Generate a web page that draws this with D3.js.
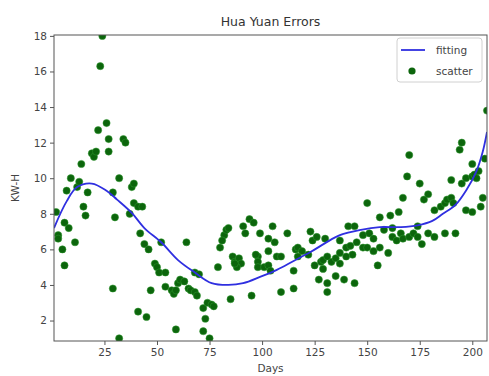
<!DOCTYPE html>
<html>
<head>
<meta charset="utf-8">
<script src="https://cdn.jsdelivr.net/npm/d3@7"></script>
<style>
  body { margin: 0; background: #fff; }
  svg { display: block; font-family: "DejaVu Sans", sans-serif; }
</style>
</head>
<body>
<svg id="chart" width="489" height="376"></svg>
<script>
// scatter readings (day, error)
const scatterDays = [2, 3, 3, 5, 6, 6, 7, 8, 9, 11, 12, 13, 14, 15, 16, 17, 19, 20, 21, 22,
  23, 24, 26, 27, 27, 29, 29, 30, 32, 32, 34, 35, 37, 38, 39, 39, 41, 43, 42, 41,
  44, 46, 45, 47, 49, 50, 51, 52, 54, 54, 57, 58, 59, 59, 60, 61, 63, 64, 65, 66,
  68, 68, 69, 70, 72, 72, 73, 74, 75, 76, 77, 79, 80, 82, 81, 83, 84, 85, 86, 87,
  89, 90, 88, 91, 92, 94, 96, 95, 98, 98, 98, 101, 103, 99, 103, 105, 103, 106, 107, 109,
  109, 112, 115, 115, 116, 117, 119, 122, 117, 123, 124, 126, 125, 127, 128, 129, 131, 131, 130, 133,
  135, 137, 135, 139, 137, 140, 141, 142, 144, 144, 145, 143, 148, 148, 150, 150, 151, 153, 153, 155,
  156, 156, 158, 160, 161, 162, 162, 164, 165, 166, 167, 167, 170, 169, 170, 172, 174, 174, 175, 176,
  177, 179, 179, 182, 182, 185, 187, 187, 188, 190, 191, 190, 192, 194, 195, 195, 197, 197, 200, 200,
  201, 203, 202, 200, 204, 205, 206, 207, 131, 140, 129, 137, 87, 104, 97];
const scatterValues = [8.1, 6.8, 6.6, 6.0, 7.5, 5.1, 9.3, 7.2, 10.0, 6.4, 9.5, 9.8, 10.8, 8.4, 7.9, 9.2, 11.4, 11.2, 11.5, 12.7,
  16.3, 18.0, 13.1, 11.5, 12.2, 3.8, 9.2, 7.8, 1.0, 10.0, 12.2, 12.0, 8.0, 9.5, 9.7, 8.6, 8.4, 8.4, 6.9, 2.5,
  6.3, 6.0, 2.2, 3.7, 5.2, 5.0, 4.7, 6.4, 4.7, 3.9, 3.7, 3.5, 3.7, 1.5, 4.1, 4.3, 4.2, 6.4, 3.8, 3.7,
  3.6, 4.7, 3.4, 4.6, 2.7, 1.4, 2.1, 3.0, 1.0, 2.9, 2.8, 5.0, 6.1, 6.8, 6.5, 7.1, 7.2, 3.2, 5.6, 5.3,
  5.5, 5.2, 5.0, 7.3, 6.9, 7.7, 7.5, 3.4, 5.6, 5.3, 5.0, 5.0, 5.1, 6.9, 6.6, 7.3, 5.9, 6.4, 5.6, 5.6,
  3.6, 6.9, 3.8, 4.8, 6.0, 6.1, 5.9, 5.7, 5.6, 7.0, 6.5, 6.7, 5.1, 4.3, 5.3, 5.4, 3.6, 4.1, 6.6, 5.3,
  5.5, 5.2, 4.5, 4.3, 6.5, 6.1, 7.3, 6.2, 4.1, 7.3, 6.4, 5.7, 6.1, 6.8, 8.6, 6.1, 6.9, 6.6, 5.9, 5.1,
  7.8, 6.1, 7.1, 5.8, 7.9, 7.2, 6.7, 6.5, 8.1, 6.9, 6.6, 8.9, 11.3, 10.1, 6.7, 6.9, 7.3, 6.7, 9.7, 6.3,
  8.8, 9.1, 6.9, 6.7, 8.2, 8.4, 8.6, 6.9, 8.8, 8.9, 8.6, 9.9, 6.9, 11.6, 12.0, 9.7, 8.2, 10.0, 10.1, 8.1,
  10.2, 10.4, 10.0, 10.8, 8.4, 8.9, 11.1, 13.8, 5.6, 5.6, 4.9, 5.8, 5.2, 4.8, 5.7];

// fitted curve
const fitDays = [1, 7, 12, 19, 26, 31, 38, 44, 52, 60, 68, 76, 84, 91, 99, 107, 115, 123, 130, 137,
  147, 156, 166, 174, 181, 186, 192, 197, 202, 205, 207];
const fitValues = [7.2, 8.7, 9.5, 9.7, 9.3, 8.8, 8.05, 7.2, 6.4, 5.4, 4.7, 4.1, 4.0, 4.1, 4.45, 4.85, 5.35, 5.85, 6.35, 6.8,
  7.1, 7.25, 7.25, 7.35, 7.6, 8.0, 8.5, 9.3, 10.4, 11.5, 12.6];

const xTicks = [25, 50, 75, 100, 125, 150, 175, 200];
const yTicks = [2, 4, 6, 8, 10, 12, 14, 16, 18];

const svg = d3.select('#chart');
const margin = { top: 35, right: 2, bottom: 35, left: 54 };
const width = 489, height = 376;
const innerWidth = width - margin.left - margin.right;
const innerHeight = height - margin.top - margin.bottom;

const x = d3.scaleLinear().domain([1, 207]).range([0, innerWidth]);
const y = d3.scaleLinear().domain([0.85, 18.05]).range([innerHeight, 0]);

const g = svg.append('g').attr('transform', `translate(${margin.left},${margin.top})`);

g.append('clipPath').attr('id', 'plot-clip')
  .append('rect').attr('width', innerWidth).attr('height', innerHeight);

const plot = g.append('g').attr('clip-path', 'url(#plot-clip)');

// scatter
plot.selectAll('.dot')
  .data(scatterDays.map((d, i) => [d, scatterValues[i]]))
  .join('circle')
  .attr('class', 'dot')
  .attr('cx', d => x(d[0]))
  .attr('cy', d => y(d[1]))
  .attr('r', 3.6)
  .attr('fill', '#0c650c')
  .attr('stroke', '#2f9a2f')
  .attr('stroke-opacity', 0.5)
  .attr('stroke-width', 1);

// fitted line
const line = d3.line()
  .x(d => x(d[0]))
  .y(d => y(d[1]))
  .curve(d3.curveCatmullRom.alpha(0.5));

plot.append('path')
  .datum(fitDays.map((d, i) => [d, fitValues[i]]))
  .attr('fill', 'none')
  .attr('stroke', '#2f2fe0')
  .attr('stroke-width', 1.8)
  .attr('d', line);

// axes
const styleAxis = sel => {
  sel.select('.domain').remove();
  sel.selectAll('line').attr('stroke', '#555');
  sel.selectAll('text').attr('fill', '#444').attr('font-size', '10.5px')
    .attr('font-family', '"DejaVu Sans", sans-serif');
};

g.append('g')
  .attr('transform', `translate(0,${innerHeight})`)
  .call(d3.axisBottom(x).tickValues(xTicks).tickSize(4).tickPadding(4))
  .call(styleAxis);

g.append('g')
  .call(d3.axisLeft(y).tickValues(yTicks).tickSize(4).tickPadding(3))
  .call(styleAxis);

// frame
g.append('rect')
  .attr('width', innerWidth).attr('height', innerHeight)
  .attr('fill', 'none').attr('stroke', '#555').attr('stroke-width', 1);

// title and labels
svg.append('text')
  .attr('x', margin.left + innerWidth / 2).attr('y', 26)
  .attr('text-anchor', 'middle').attr('font-size', '12.5px').attr('fill', '#333')
  .text('Hua Yuan Errors');

svg.append('text')
  .attr('x', margin.left + innerWidth / 2).attr('y', 372)
  .attr('text-anchor', 'middle').attr('font-size', '10.5px').attr('fill', '#444')
  .text('Days');

svg.append('text')
  .attr('transform', `translate(19,${margin.top + innerHeight / 2}) rotate(-90)`)
  .attr('text-anchor', 'middle').attr('font-size', '10.5px').attr('fill', '#444')
  .text('KW-H');

// legend
const legend = svg.append('g').attr('transform', 'translate(397,38)');
legend.append('rect')
  .attr('width', 85).attr('height', 44).attr('rx', 3)
  .attr('fill', '#fff').attr('fill-opacity', 0.85)
  .attr('stroke', '#d0d0d0');
legend.append('line')
  .attr('x1', 4).attr('x2', 28).attr('y1', 12).attr('y2', 12)
  .attr('stroke', '#2f2fe0').attr('stroke-width', 1.8);
legend.append('text').attr('x', 39).attr('y', 16)
  .attr('font-size', '10.5px').attr('fill', '#444').text('fitting');
legend.append('circle').attr('cx', 15).attr('cy', 33).attr('r', 3.6)
  .attr('fill', '#0c650c');
legend.append('text').attr('x', 39).attr('y', 37)
  .attr('font-size', '10.5px').attr('fill', '#444').text('scatter');
</script>
</body>
</html>
